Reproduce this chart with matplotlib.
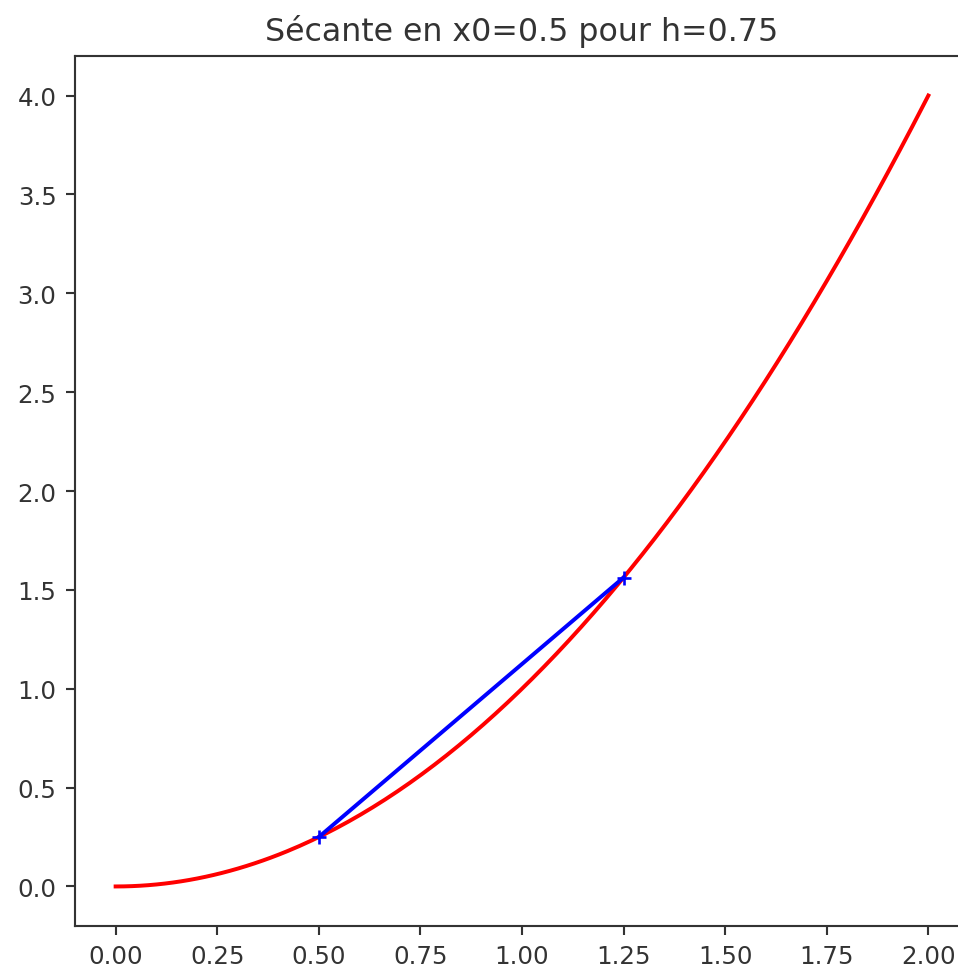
import numpy as np
import matplotlib
matplotlib.use("Agg")
import matplotlib.pyplot as plt

x0 = 0.5
h = 0.75
x_curve = np.linspace(0, 2, 200)
y_curve = x_curve ** 2
x_sec = [x0, x0 + h]
y_sec = [x0 ** 2, (x0 + h) ** 2]

W, H, dpi = 958, 969, 190
fig = plt.figure(figsize=(W / dpi, H / dpi), dpi=dpi)
left, right = 75 / W, 969 / W
bottom, top = (H - 927) / H, (H - 57) / H
ax = fig.add_axes([left, bottom, right - left, top - bottom])
ax.plot(x_curve, y_curve, color="red", lw=1.5)
ax.plot(x_sec, y_sec, color="blue", lw=1.5, marker="+", markersize=5.5)
ax.set_xlim(-0.1, 2.1)
ax.set_ylim(-0.2, 4.2)
ax.set_xticks(np.arange(0, 2.01, 0.25))
ax.set_yticks(np.arange(0, 4.01, 0.5))
ax.tick_params(labelsize=9.3, labelcolor="#333333", color="#333333")
for s in ax.spines.values():
    s.set_color("#333333")
ax.set_title("Sécante en x0=0.5 pour h=0.75", color="#333333")
fig.savefig("out.png", dpi=dpi)
